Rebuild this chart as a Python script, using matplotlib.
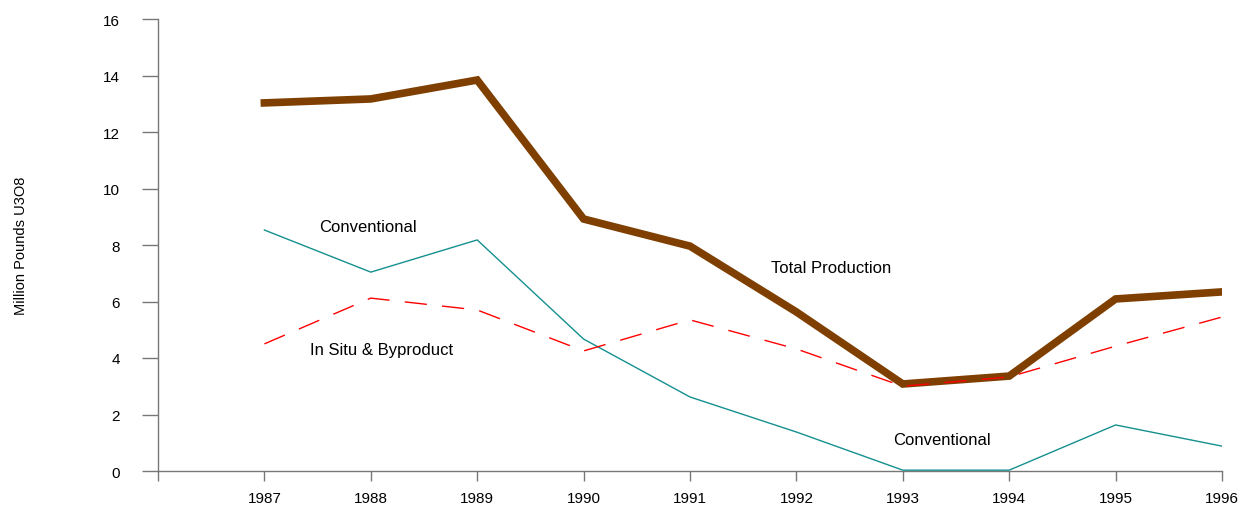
import matplotlib
matplotlib.use("Agg")
import matplotlib.pyplot as plt

plt.rcParams['font.family'] = ['Liberation Sans', 'DejaVu Sans']

years = [1987, 1988, 1989, 1990, 1991, 1992, 1993, 1994, 1995, 1996]
total_production = [13.03, 13.17, 13.84, 8.92, 7.96, 5.63, 3.08, 3.36, 6.09, 6.34]
conventional = [8.53, 7.04, 8.18, 4.67, 2.62, 1.38, 0.03, 0.03, 1.63, 0.88]
in_situ = [4.50, 6.12, 5.70, 4.25, 5.35, 4.32, 3.00, 3.33, 4.42, 5.45]

fig = plt.figure(figsize=(12.43, 5.06), dpi=100)
ax = fig.add_axes([158 / 1243, 1 - 472 / 506, (1222 - 158) / 1243, (472 - 20) / 506])

ax.plot(years, total_production, color='#7f3f00', linewidth=5.5, solid_joinstyle='miter', zorder=2)
ax.plot(years, conventional, color='#159090', linewidth=1.0, zorder=3)
ax.plot(years, in_situ, color='#ff0000', linewidth=1.0, dashes=(16, 11), zorder=4)

ax.text(1987.97, 8.65, 'Conventional', fontsize=12, ha='center', va='center')
ax.text(1992.33, 7.2, 'Total Production', fontsize=12, ha='center', va='center')
ax.text(1988.10, 4.3, 'In Situ & Byproduct', fontsize=12, ha='center', va='center')
ax.text(1993.37, 1.1, 'Conventional', fontsize=12, ha='center', va='center')

ax.set_xlim(1986, 1996)
ax.set_ylim(0, 16)
ax.set_xticks(range(1986, 1997))
ax.set_xticklabels([''] + [str(y) for y in years])
ax.set_yticks(range(0, 17, 2))

for side in ['top', 'right']:
    ax.spines[side].set_visible(False)
for side in ['left', 'bottom']:
    ax.spines[side].set_color('#777777')
    ax.spines[side].set_linewidth(1.0)
ax.tick_params(axis='x', direction='out', length=7.2, width=1, color='#777777', labelsize=11, pad=7)
ax.tick_params(axis='y', direction='out', length=11.5, width=1, color='#777777', labelsize=11, pad=16)

ax.set_ylabel('Million Pounds U3O8', fontsize=10.5, labelpad=54)

fig.savefig('out.png', dpi=100)
